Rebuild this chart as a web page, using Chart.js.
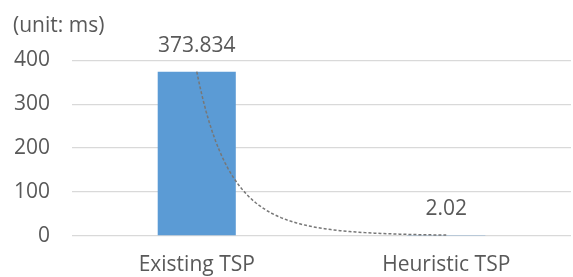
<!DOCTYPE html>
<html>
<head>
<meta charset="utf-8">
<script src="https://cdn.jsdelivr.net/npm/chart.js@4.4.1/dist/chart.umd.min.js"></script>
<style>
  html, body { margin: 0; padding: 0; background: #fff; }
  #wrap { width: 573px; height: 277px; }
</style>
</head>
<body>
<div id="wrap"><canvas id="tspChart" width="573" height="277"></canvas></div>
<script>
const categories = ['Existing TSP', 'Heuristic TSP'];
const runTimes = [373.834, 2.02];
const valueLabels = ['373.834', '2.02'];
const yTicks = [0, 100, 200, 300, 400];

const textColor = '#595959';
const fontFamily = '"Open Sans", sans-serif';

// Excel-style power trendline (y = a * x^b) fitted on the bar values
const powerTrendline = {
    id: 'powerTrendline',
    afterDatasetsDraw(chart) {
        const xs = chart.scales.x;
        const ys = chart.scales.y;
        const n = runTimes.length;
        // least squares on ln(y) vs ln(x), x = 1..n
        let sx = 0, sy = 0, sxx = 0, sxy = 0;
        runTimes.forEach((v, i) => {
            const lx = Math.log(i + 1), ly = Math.log(v);
            sx += lx; sy += ly; sxx += lx * lx; sxy += lx * ly;
        });
        const b = (n * sxy - sx * sy) / (n * sxx - sx * sx);
        const a = Math.exp((sy - b * sx) / n);

        const ctx = chart.ctx;
        ctx.save();
        ctx.strokeStyle = '#777777';
        ctx.lineWidth = 1.5;
        ctx.setLineDash([3, 2]);
        ctx.beginPath();
        const steps = 80;
        for (let s = 0; s <= steps; s++) {
            const idx = (n - 1) * s / steps;
            const px = xs.getPixelForValue(idx);
            const py = ys.getPixelForValue(a * Math.pow(idx + 1, b));
            if (s === 0) ctx.moveTo(px, py); else ctx.lineTo(px, py);
        }
        ctx.stroke();
        ctx.restore();
    }
};

// value labels above bars
const barValueLabels = {
    id: 'barValueLabels',
    afterDraw(chart) {
        const ctx = chart.ctx;
        const meta = chart.getDatasetMeta(0);
        ctx.save();
        ctx.fillStyle = textColor;
        ctx.font = '21px ' + fontFamily;
        ctx.textAlign = 'center';
        ctx.textBaseline = 'middle';
        meta.data.forEach((bar, i) => {
            ctx.fillText(valueLabels[i], bar.x, bar.y - 26);
        });
        ctx.restore();
    }
};

const ctx = document.getElementById('tspChart').getContext('2d');
new Chart(ctx, {
    type: 'bar',
    data: {
        labels: categories,
        datasets: [{
            data: runTimes,
            backgroundColor: '#5b9bd5',
            borderWidth: 0,
            categoryPercentage: 1,
            barPercentage: 0.313
        }]
    },
    options: {
        responsive: false,
        animation: false,
        layout: { padding: { top: 0, left: 13, right: 2, bottom: 0 } },
        plugins: {
            legend: { display: false },
            tooltip: { enabled: false },
            title: {
                display: true,
                text: '(unit: ms)',
                align: 'start',
                color: textColor,
                font: { family: fontFamily, size: 21, weight: 'normal' },
                padding: { top: 13, bottom: 22 }
            }
        },
        scales: {
            x: {
                grid: { display: false, drawTicks: false },
                border: { display: false },
                afterFit(scale) { scale.height = 41; },
                ticks: {
                    color: textColor,
                    font: { family: fontFamily, size: 21 },
                    padding: 16,
                    maxRotation: 0
                }
            },
            y: {
                min: 0,
                max: 400,
                afterBuildTicks(scale) {
                    scale.ticks = yTicks.map(v => ({ value: v }));
                },
                afterFit(scale) { scale.width = 59; },
                grid: { color: '#d9d9d9', lineWidth: 1.3, drawTicks: false },
                border: { display: false },
                ticks: {
                    color: textColor,
                    font: { family: fontFamily, size: 21 },
                    padding: 22
                }
            }
        }
    },
    plugins: [powerTrendline, barValueLabels]
});
</script>
</body>
</html>
